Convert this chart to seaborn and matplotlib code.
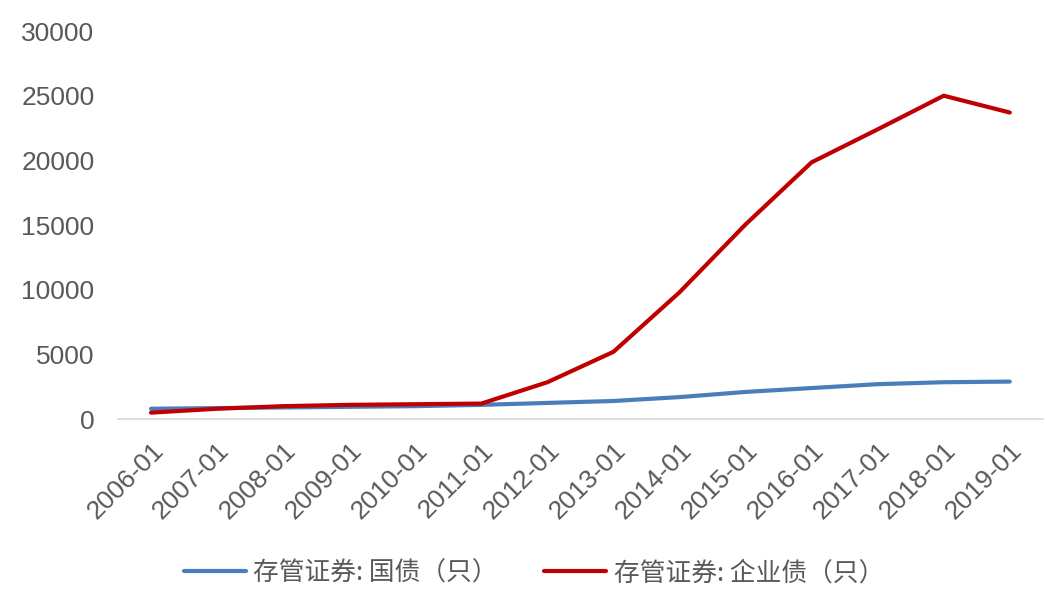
import pandas as pd
import matplotlib.pyplot as plt
from matplotlib.ticker import FixedLocator
import seaborn as sns

# 数据
years = ['2006-01', '2007-01', '2008-01', '2009-01', '2010-01', '2011-01', '2012-01',
         '2013-01', '2014-01', '2015-01', '2016-01', '2017-01', '2018-01', '2019-01']
guozhai = [800, 850, 900, 950, 1000, 1100, 1250, 1400, 1700, 2100, 2400, 2700, 2850, 2900]
qiyezhai = [500, 800, 1000, 1100, 1150, 1200, 2850, 5200, 9800, 15050, 19850, 22400, 25000, 23700]

name_gz = '存管证券: 国债（只）'
name_qy = '存管证券: 企业债（只）'

df = pd.DataFrame({
    'date': years * 2,
    'value': guozhai + qiyezhai,
    'series': [name_gz] * len(years) + [name_qy] * len(years),
})

sns.set_style('white')
plt.rcParams['font.family'] = ['Liberation Sans', 'Noto Sans CJK SC', 'DejaVu Sans']

fig = plt.figure(figsize=(10.47, 5.97), dpi=100)
ax = fig.add_axes([0.1127, 0.298, 0.8833, 0.65])

sns.lineplot(data=df, x='date', y='value', hue='series',
             palette={name_gz: '#4a7ebb', name_qy: '#c00000'},
             linewidth=3, sort=False, ax=ax, legend=True)

ax.set_xlim(-0.5, len(years) - 0.5)
ax.set_ylim(0, 30000)
ax.set_yticks(range(0, 30001, 5000))
ax.set_xlabel('')
ax.set_ylabel('')

for s in ['top', 'right', 'left']:
    ax.spines[s].set_visible(False)
ax.spines['bottom'].set_color('#d9d9d9')
ax.spines['bottom'].set_linewidth(1.2)

ax.set_xticks(range(len(years)))
ax.set_xticklabels(years, rotation=45, ha='right', rotation_mode='anchor')
ax.xaxis.set_minor_locator(FixedLocator([i - 0.5 for i in range(len(years) + 1)]))
ax.tick_params(axis='x', which='major', length=0, pad=14, labelsize=19, labelcolor='#595959')
ax.tick_params(axis='x', which='minor', length=7, width=1.2, color='#d9d9d9', direction='out')
ax.tick_params(axis='y', length=0, pad=17, labelsize=19, labelcolor='#595959')

handles, labels = ax.get_legend_handles_labels()
ax.get_legend().remove()
leg = fig.legend(handles, labels, loc='center', bbox_to_anchor=(0.51, 0.04), ncol=2,
                 frameon=False, handlelength=2.4, handletextpad=0.3, columnspacing=1.8,
                 prop={'family': ['Noto Sans CJK SC'], 'size': 18.5})
for t in leg.get_texts():
    t.set_color('#595959')

plt.savefig('out.png', dpi=100)
